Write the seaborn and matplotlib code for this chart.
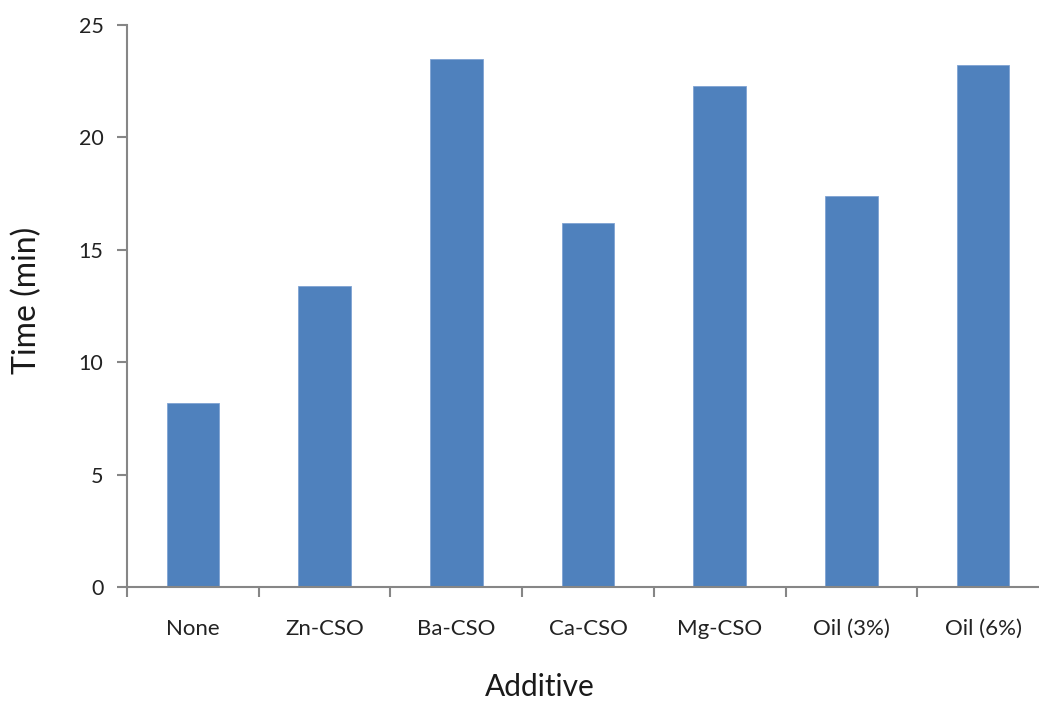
import matplotlib
matplotlib.use("Agg")
import matplotlib.pyplot as plt
import seaborn as sns
import pandas as pd
from matplotlib.ticker import FixedLocator

additives = ["None", "Zn-CSO", "Ba-CSO", "Ca-CSO", "Mg-CSO", "Oil (3%)", "Oil (6%)"]
times = [8.2, 13.4, 23.5, 16.2, 22.3, 17.4, 23.2]
y_ticks = [0, 5, 10, 15, 20, 25]

sns.set_theme(style="white")
plt.rcParams["font.family"] = ["Lato", "DejaVu Sans"]

df = pd.DataFrame({"Additive": additives, "Time (min)": times})

W, H = 1039, 702
fig = plt.figure(figsize=(W / 100, H / 100), dpi=100)
left, right, top, bottom = 127, 1049, 25, 587
ax = fig.add_axes([left / W, 1 - bottom / H, (right - left) / W, (bottom - top) / H])

sns.barplot(data=df, x="Additive", y="Time (min)", color="#4F81BD",
            width=0.4, saturation=1, edgecolor="#7FA3D3", linewidth=0.6, ax=ax)

ax.set_xlim(-0.5, len(additives) - 0.5)
ax.set_ylim(0, 25)
ax.set_yticks(y_ticks)
ax.set_yticklabels([str(t) for t in y_ticks], fontsize=15.5, color="#222222")

# category labels centered, tick marks at category boundaries
ax.tick_params(axis="x", which="major", length=0, pad=30, labelsize=16, labelcolor="#222222")
ax.xaxis.set_minor_locator(FixedLocator([i - 0.5 for i in range(len(additives) + 1)]))
ax.tick_params(axis="x", which="minor", length=7, width=1.5, color="#868686", direction="out")
ax.tick_params(axis="y", length=7, width=1.5, color="#868686", direction="out", pad=10)
ax.tick_params(bottom=True, left=True, which="both")
for lbl in ax.get_xticklabels():
    lbl.set_va("center")

for side in ("top", "right"):
    ax.spines[side].set_visible(False)
for side in ("left", "bottom"):
    ax.spines[side].set_color("#868686")
    ax.spines[side].set_linewidth(1.5)

ax.set_xlabel("Additive", fontsize=21.5, color="#1a1a1a")
ax.set_ylabel("Time (min)", fontsize=23, color="#1a1a1a")
ax.xaxis.set_label_coords((540 - left) / (right - left), -(687 - bottom) / (bottom - top))
ax.yaxis.set_label_coords(-(left - 27) / (right - left), (bottom - 300) / (bottom - top))
ax.xaxis.label.set_va("center")
ax.yaxis.label.set_va("center")

fig.savefig("out.png", dpi=100, facecolor="white")
